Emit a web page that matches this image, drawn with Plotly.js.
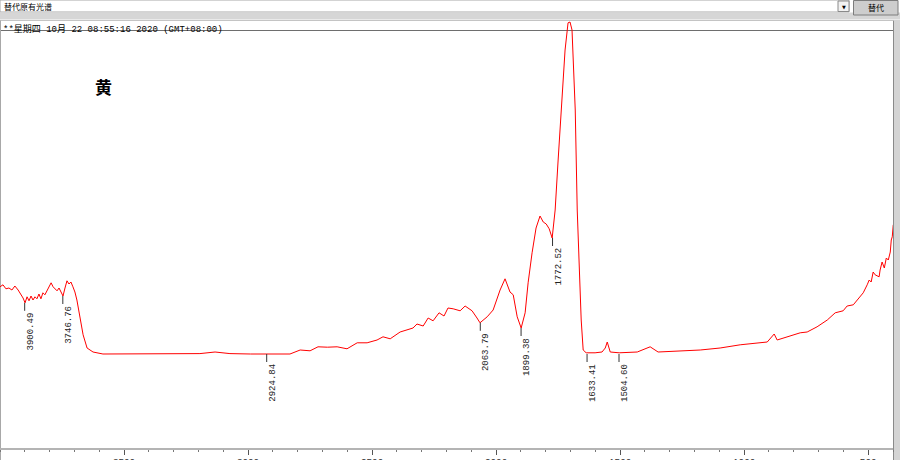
<!DOCTYPE html>
<html>
<head>
<meta charset="utf-8">
<script src="https://cdn.plot.ly/plotly-3.0.1.min.js"></script>
<style>html,body{margin:0;padding:0;background:#fff;}#chart{width:900px;height:460px;}</style>
</head>
<body>
<div id="chart"></div>
<script>
// Wavenumbers (cm-1) and absorbance-like intensity
const wavenumber = [4000,3988,3976,3964,3952,3940,3927,3915,3907,3899,3891,3883,3875,3867,3859,3851,3843,3835,3827,3819,3810,3802,3794,3786,3778,3770,3762,3754,3746,3738,3730,3722,3714,3706,3698,3690,3677,3665,3649,3625,3585,3500,3395,3274,3194,3133,3073,2990,2927,2831,2790,2750,2718,2680,2641,2601,2560,2520,2480,2456,2427,2387,2335,2319,2294,2274,2254,2230,2210,2194,2173,2145,2125,2097,2077,2065,2036,2012,1984,1964,1944,1931,1915,1899,1883,1871,1855,1839,1823,1810,1798,1786,1774,1762,1750,1734,1722,1710,1702,1694,1690,1681,1673,1665,1657,1649,1637,1601,1573,1560,1552,1540,1504,1431,1379,1347,1258,1177,1097,1016,907,879,867,827,774,746,706,665,633,601,585,560,532,520,504,496,488,480,472,456,452,444,435,427,419,411,407,403,399];
const absorbance = [0.403,0.408,0.398,0.400,0.395,0.405,0.395,0.383,0.375,0.363,0.378,0.368,0.380,0.370,0.378,0.373,0.385,0.373,0.388,0.383,0.395,0.403,0.413,0.403,0.398,0.393,0.400,0.388,0.380,0.400,0.418,0.410,0.415,0.403,0.390,0.370,0.320,0.283,0.250,0.240,0.235,0.235,0.235,0.235,0.236,0.240,0.236,0.235,0.235,0.235,0.245,0.243,0.253,0.252,0.253,0.248,0.263,0.263,0.270,0.278,0.273,0.290,0.300,0.310,0.305,0.325,0.318,0.338,0.330,0.350,0.348,0.343,0.355,0.343,0.325,0.313,0.328,0.345,0.395,0.423,0.390,0.383,0.328,0.300,0.338,0.413,0.488,0.550,0.580,0.565,0.560,0.548,0.525,0.595,0.720,0.888,0.995,1.063,1.065,1.045,0.988,0.845,0.595,0.445,0.320,0.245,0.238,0.238,0.240,0.250,0.265,0.240,0.238,0.240,0.253,0.240,0.243,0.245,0.250,0.258,0.265,0.285,0.270,0.278,0.288,0.290,0.303,0.320,0.338,0.343,0.355,0.358,0.378,0.388,0.408,0.420,0.415,0.440,0.433,0.428,0.445,0.465,0.450,0.475,0.470,0.490,0.520,0.528,0.558];

// Peak-pick labels
const peakX = [3900.49, 3746.76, 2924.84, 2063.79, 1899.38, 1772.52, 1633.41, 1504.60];
const peakY = [0.363, 0.380, 0.235, 0.313, 0.300, 0.525, 0.235, 0.235];
const peakText = ['3900.49', '3746.76', '2924.84', '2063.79', '1899.38', '1772.52', '1633.41', '1504.60'];

// Axis ticks
const tickValues = [3500, 3000, 2500, 2000, 1500, 1000, 500];
const tickText = ['3500', '3000', '2500', '2000', '1500', '1000', '500'];

const W = 893, H = 448;
const px = v => v / W;
const py = v => 1 - v / H;

const shapes = [
  // toolbar text box
  {type:'rect', xref:'paper', yref:'paper', x0:px(0), x1:px(849), y0:py(12), y1:py(0), fillcolor:'#ffffff', line:{color:'#a8a8a8', width:1}, layer:'below'},
  // grey band
  {type:'rect', xref:'paper', yref:'paper', x0:px(0), x1:px(900), y0:py(19.5), y1:py(12.5), fillcolor:'#d6d6d6', line:{width:0}, layer:'below'},
  // dropdown box
  {type:'rect', xref:'paper', yref:'paper', x0:px(838), x1:px(849), y0:py(11.5), y1:py(1), fillcolor:'#f2f2f2', line:{color:'#8a8a8a', width:1}, layer:'below'},
  // button
  {type:'rect', xref:'paper', yref:'paper', x0:px(853.5), x1:px(898), y0:py(15), y1:py(0.5), fillcolor:'#cdcdcd', line:{color:'#7c7c7c', width:1}, layer:'below'},
  // light border line
  {type:'line', xref:'paper', yref:'paper', x0:px(0), x1:px(893), y0:py(20.5), y1:py(20.5), line:{color:'#c4c4c4', width:1}, layer:'below'},
  // header line
  {type:'line', xref:'paper', yref:'paper', x0:px(0), x1:px(893), y0:py(30.5), y1:py(30.5), line:{color:'#6e6e6e', width:1}, layer:'below'},
  // right grey strip
  {type:'rect', xref:'paper', yref:'paper', x0:px(893.5), x1:px(900), y0:py(460), y1:py(20), fillcolor:'#d4d4d4', line:{width:0}, layer:'below'},
  {type:'line', xref:'paper', yref:'paper', x0:px(893.5), x1:px(893.5), y0:py(460), y1:py(20.5), line:{color:'#8a8a8a', width:1}, layer:'below'},
  // left edge
  {type:'line', xref:'paper', yref:'paper', x0:px(0.5), x1:px(0.5), y0:py(460), y1:py(20.5), line:{color:'#a8a8a8', width:1}, layer:'below'}
];

peakX.forEach((x, i) => {
  shapes.push({type:'line', xref:'x', yref:'y', x0:x, x1:x, ysizemode:'pixel', yanchor:peakY[i], y0:0, y1:-8, line:{color:'#333333', width:1}});
});

const annotations = [
  {xref:'paper', yref:'paper', x:px(2), y:py(6.5), xanchor:'left', yanchor:'middle', text:'替代原有光谱', showarrow:false, font:{family:'Noto Sans CJK SC', size:8, color:'#000'}},
  {xref:'paper', yref:'paper', x:px(843.5), y:py(6.5), xanchor:'center', yanchor:'middle', text:'▼', showarrow:false, font:{family:'DejaVu Sans', size:5, color:'#000'}},
  {xref:'paper', yref:'paper', x:px(875.5), y:py(7.5), xanchor:'center', yanchor:'middle', text:'替代', showarrow:false, font:{family:'Noto Sans CJK SC', size:8, color:'#000'}},
  {xref:'paper', yref:'paper', x:px(1), y:py(29), xanchor:'left', yanchor:'middle', text:'**星期四 10月 22 08:55:16 2020 (GMT+08:00)', showarrow:false, font:{family:'Liberation Mono, Noto Sans CJK SC', size:9, color:'#000'}},
  {xref:'paper', yref:'paper', x:px(103.5), y:py(86), xanchor:'center', yanchor:'middle', text:'<b>黄</b>', showarrow:false, font:{family:'Noto Sans CJK SC', size:17, color:'#000'}}
];

peakX.forEach((x, i) => {
  annotations.push({xref:'x', yref:'y', x:x, y:peakY[i], text:peakText[i], showarrow:false, textangle:-90,
    xanchor:'center', yanchor:'top', xshift:6, yshift:-8, font:{family:'Liberation Mono', size:9, color:'#222'}});
});

const trace = {
  x: wavenumber, y: absorbance, type:'scatter', mode:'lines',
  line:{color:'#ff0000', width:1}, hoverinfo:'skip'
};

const layout = {
  width:900, height:460,
  margin:{l:0, r:7, t:0, b:12, pad:0},
  paper_bgcolor:'#ffffff', plot_bgcolor:'#ffffff',
  showlegend:false,
  xaxis:{range:[4000, 400], tickvals:tickValues, ticktext:tickText, showgrid:false, zeroline:false,
    showline:true, linecolor:'#b4b4b4', linewidth:2, ticks:'outside', ticklen:5, tickcolor:'#555', tickwidth:1,
    tickfont:{family:'Liberation Sans', size:10, color:'#333'}, automargin:false, fixedrange:true,
    minor:{dtick:100, tick0:0, ticks:'outside', ticklen:2, tickcolor:'#777', tickwidth:1}},
  yaxis:{range:[0, 1.12], visible:false, fixedrange:true},
  shapes:shapes,
  annotations:annotations
};

Plotly.newPlot('chart', [trace], layout, {staticPlot:true, displayModeBar:false});
</script>
</body>
</html>
